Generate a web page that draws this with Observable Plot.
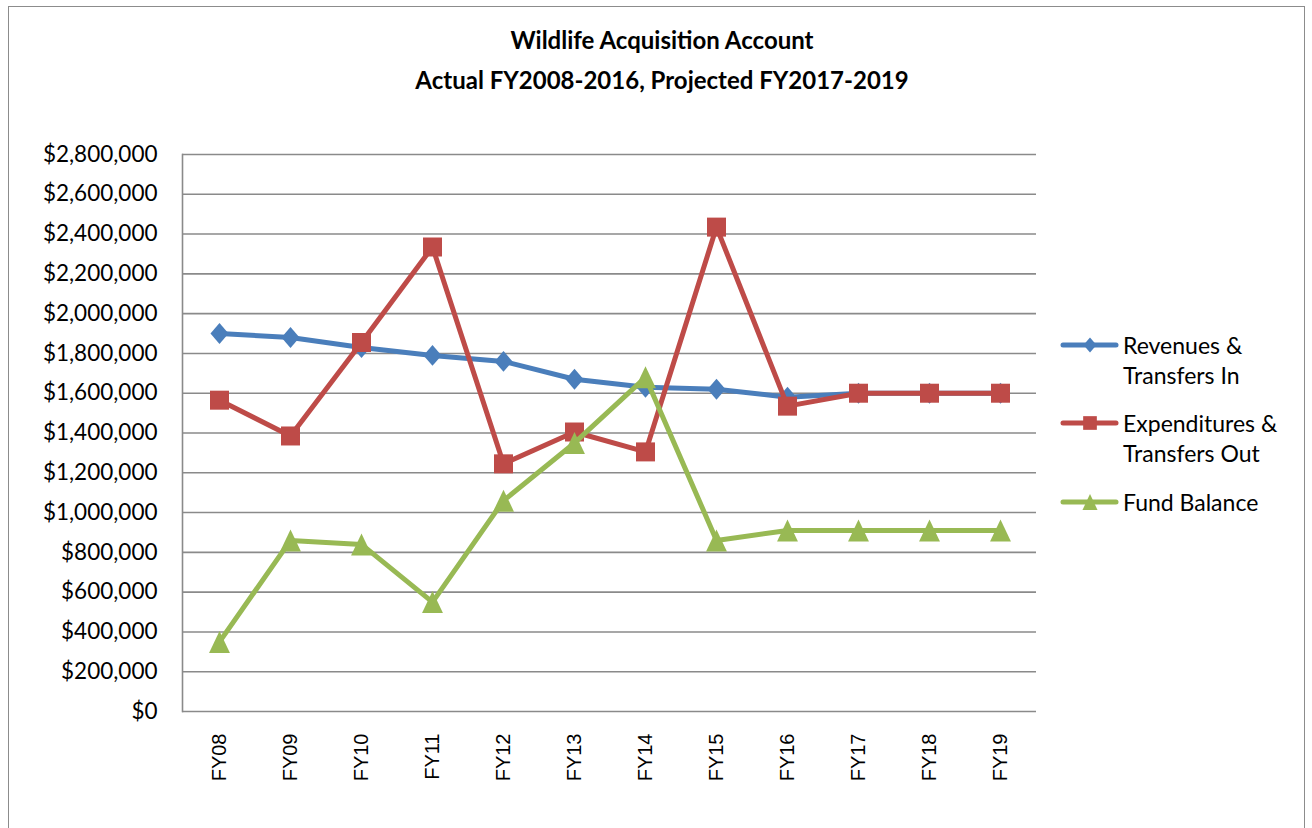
<!DOCTYPE html>
<html>
<head>
<meta charset="utf-8">
<script src="https://cdn.jsdelivr.net/npm/d3@7"></script>
<script src="https://cdn.jsdelivr.net/npm/@observablehq/plot@0.6"></script>
<style>
  html, body { margin: 0; padding: 0; background: #fff; }
  #wrap { position: relative; width: 1312px; height: 828px; overflow: hidden; }
  #border { position: absolute; left: 8px; top: 6px; width: 1297px; height: 900px; border: 1.5px solid #8c8c8c; box-sizing: border-box; }
  #title { position: absolute; left: 0; top: 20px; width: 1324px; text-align: center; font-family: Lato, "Open Sans", sans-serif; font-weight: bold; font-size: 24px; line-height: 40px; color: #000; }
  #chart { position: absolute; left: 0; top: 0; }
  #legend { position: absolute; left: 1060px; top: 330px; font-family: Lato, "Open Sans", sans-serif; font-size: 23px; color: #000; }
  .item { position: relative; height: 30px; }
  .item svg { position: absolute; left: 0; }
  .item .lbl { position: absolute; left: 63px; line-height: 30px; white-space: nowrap; }
</style>
</head>
<body>
<div id="wrap">
  <div id="border"></div>
  <div id="chart"></div>
  <div id="title">Wildlife Acquisition Account<br>Actual FY2008-2016, Projected FY2017-2019</div>
  <div id="legend"></div>
</div>
<script>
const categories = ["FY08","FY09","FY10","FY11","FY12","FY13","FY14","FY15","FY16","FY17","FY18","FY19"];
const revenues = [1900000, 1880000, 1830000, 1790000, 1760000, 1670000, 1630000, 1620000, 1580000, 1600000, 1600000, 1600000];
const expenditures = [1565000, 1385000, 1855000, 2335000, 1245000, 1405000, 1305000, 2435000, 1535000, 1600000, 1600000, 1600000];
const balance = [350000, 860000, 840000, 550000, 1060000, 1350000, 1680000, 860000, 910000, 910000, 910000, 910000];
const seriesNames = [["Revenues &", "Transfers In"], ["Expenditures &", "Transfers Out"], ["Fund Balance"]];
const seriesColors = ["#4A7EBB", "#BE4B48", "#98B954"];
const yTicks = [0, 200000, 400000, 600000, 800000, 1000000, 1200000, 1400000, 1600000, 1800000, 2000000, 2200000, 2400000, 2600000, 2800000];

const diamondSym = {draw(ctx, size) { const r = Math.sqrt(size / Math.PI); ctx.moveTo(0, -r * 1.1); ctx.lineTo(r * 0.95, 0); ctx.lineTo(0, r * 1.1); ctx.lineTo(-r * 0.95, 0); ctx.closePath(); }};
const squareSym = {draw(ctx, size) { const r = Math.sqrt(size / Math.PI); ctx.rect(-r, -r, 2 * r, 2 * r); }};
const triangleSym = {draw(ctx, size) { const r = Math.sqrt(size / Math.PI); ctx.moveTo(0, -r); ctx.lineTo(r * 0.95, r); ctx.lineTo(-r * 0.95, r); ctx.closePath(); }};
const symbols = [diamondSym, squareSym, triangleSym];
const radii = [9.5, 9.5, 11];

const allValues = [revenues, expenditures, balance];
const seriesData = allValues.map((vals, i) => categories.map((c, j) => ({cat: c, value: vals[j], series: i})));

const marks = [
  Plot.ruleY(yTicks, {stroke: "#8a8a8a", strokeWidth: 1.6}),
  Plot.frame({anchor: "left", stroke: "#8a8a8a", strokeWidth: 1.6}),
  Plot.axisY({ticks: yTicks, tickFormat: d3.format("$,"), tickSize: 0, tickPadding: 25, fontSize: 22.5, fontFamily: "Lato, 'Open Sans', sans-serif", label: null, fill: "#000"}),
  Plot.text(categories, {x: d => d, frameAnchor: "bottom", dy: 22, rotate: -90, textAnchor: "end", lineAnchor: "middle", fontSize: 20, fontFamily: "'Liberation Sans', Arial, sans-serif", fill: "#000"})
];
seriesData.forEach((d, i) => {
  marks.push(Plot.line(d, {x: "cat", y: "value", stroke: seriesColors[i], strokeWidth: 5, strokeLinejoin: "round"}));
  marks.push(Plot.dot(d, {x: "cat", y: "value", symbol: symbols[i], r: radii[i], fill: seriesColors[i], stroke: "none"}));
});

const chart = Plot.plot({
  width: 1312,
  height: 828,
  marginLeft: 182,
  marginRight: 276,
  marginTop: 154,
  marginBottom: 117,
  style: {background: "transparent", fontFamily: "Lato, 'Open Sans', sans-serif", fontSize: "22px", color: "#000"},
  x: {type: "point", domain: categories, padding: 0.5, axis: null},
  y: {domain: [0, 2800000], axis: null},
  marks
});
document.getElementById("chart").appendChild(chart);

// legend
const legend = d3.select("#legend");
const legendTops = [0, 78, 157];
seriesNames.forEach((lines, i) => {
  const item = legend.append("div").attr("class", "item").style("position", "absolute").style("top", legendTops[i] + "px");
  const svg = item.append("svg").attr("width", 60).attr("height", 30).style("top", "0px");
  svg.append("line").attr("x1", 3).attr("x2", 56).attr("y1", 15).attr("y2", 15)
    .attr("stroke", seriesColors[i]).attr("stroke-width", 5).attr("stroke-linecap", "round");
  const sym = d3.symbol(symbols[i], Math.PI * (radii[i] * 0.72) ** 2);
  svg.append("path").attr("d", sym()).attr("transform", "translate(30,15)").attr("fill", seriesColors[i]);
  lines.forEach((t, k) => {
    item.append("div").attr("class", "lbl").style("top", (k * 30) + "px").text(t);
  });
});
</script>
</body>
</html>
